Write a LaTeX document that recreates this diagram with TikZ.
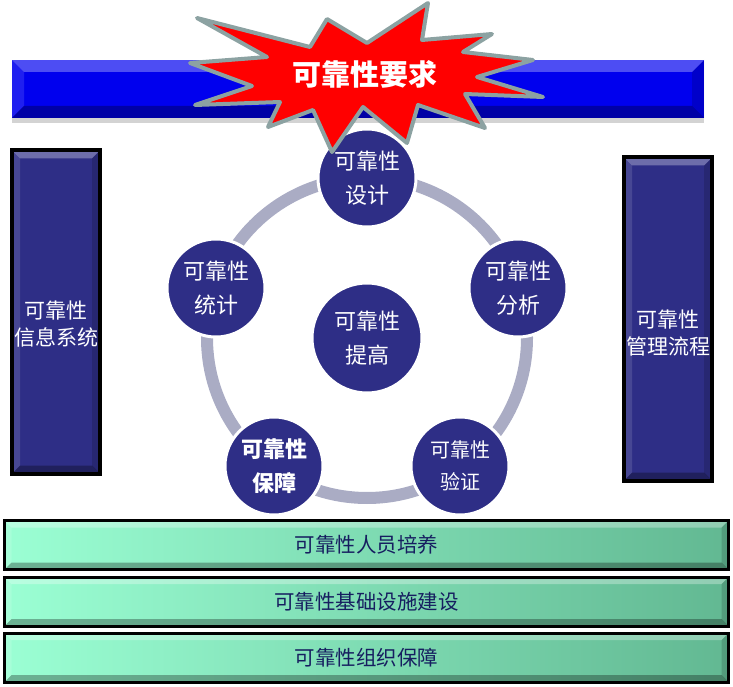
\documentclass[tikz,border=0pt]{standalone}
\usepackage{fontspec}
\setmainfont{Noto Sans CJK SC}
\usetikzlibrary{shadows}
\definecolor{barblue}{RGB}{0,0,238}
\definecolor{navy}{RGB}{46,46,134}
\definecolor{ringgray}{RGB}{170,172,196}
\definecolor{burstgray}{RGB}{140,162,162}
\definecolor{mintlight}{RGB}{155,255,212}
\definecolor{mintdark}{RGB}{98,184,146}
\definecolor{inkblue}{RGB}{22,30,96}

\begin{document}
\begin{tikzpicture}[x=1pt,y=1pt]
\tikzset{bevel/.style = {path picture={
  \coordinate (bnw) at (path picture bounding box.north west);
  \coordinate (bne) at (path picture bounding box.north east);
  \coordinate (bsw) at (path picture bounding box.south west);
  \coordinate (bse) at (path picture bounding box.south east);
  \fill[white,opacity=.3] (bnw) -- (bne) -- ([shift={(-#1,-#1)}]bne) -- ([shift={(#1,-#1)}]bnw) -- cycle;
  \fill[white,opacity=.12] (bnw) -- (bsw) -- ([shift={(#1,#1)}]bsw) -- ([shift={(#1,-#1)}]bnw) -- cycle;
  \fill[black,opacity=.3] (bsw) -- (bse) -- ([shift={(-#1,#1)}]bse) -- ([shift={(#1,#1)}]bsw) -- cycle;
  \fill[black,opacity=.15] (bne) -- (bse) -- ([shift={(-#1,#1)}]bse) -- ([shift={(-#1,-#1)}]bne) -- cycle;
}}}
\tikzset{ball/.style = {shape=circle,draw=white,line width=3pt,fill=navy,text=white,minimum size=98pt,inner sep=0pt,align=center,font=\fontsize{22}{34}\selectfont}}
\tikzset{pillar/.style = {draw=black,line width=4pt,fill=navy,minimum width=88pt,minimum height=323pt,bevel=8}}
\tikzset{pillartext/.style = {text=white,align=center,font=\fontsize{21}{27}\selectfont}}
\tikzset{plank/.style = {draw=black,line width=3pt,left color=mintlight,right color=mintdark,text=inkblue,minimum width=724pt,minimum height=49pt,font=\fontsize{20.5}{24}\selectfont,bevel=7}}
\tikzset{burst/.style = {draw=burstgray,fill=red,line width=4pt,line join=round}}
\tikzset{ring/.style = {draw=ringgray,line width=12pt}}
\useasboundingbox (0,0) rectangle (733,686);
% top banner
\node[fill=barblue,minimum width=692pt,minimum height=58pt,bevel=12,drop shadow={shadow xshift=0pt,shadow yshift=-5pt,opacity=.35}] (banner) at (358,597) {};
% side pillars
\node[pillar] (info) at (56,374) {};
\node[pillartext] (infotext) at ([yshift=-12pt]info.center) {可靠性\\信息系统};
\node[pillar] (flow) at (668,367) {};
\node[pillartext] (flowtext) at ([yshift=-14pt]flow.center) {可靠性\\管理流程};
% ring of circles
\node[ball,minimum size=110pt] (hub) at (367,348) {可靠性\\提高};
\draw[ring] (hub.center) circle[radius=160pt];
\node[ball] (design) at (367,508) {可靠性\\设计};
\node[ball] (analyse) at (518,398) {可靠性\\分析};
\node[ball,font=\fontsize{20}{32}\selectfont] (verify) at (460,220) {可靠性\\验证};
\node[ball,font=\fontsize{22}{34}\selectfont\bfseries] (assure) at (274,220) {可靠性\\保障};
\node[ball] (stats) at (216,398) {可靠性\\统计};
% burst
\draw[burst] (197,668) -- (310,639) -- (327,667) -- (367,643) -- (428,683) -- (422,646)
  -- (492,652) -- (463,634) -- (533,626) -- (477,609) -- (543,589) -- (465,592)
  -- (485,558) -- (418,581) -- (407,543) -- (363,579) -- (332,534) -- (313,576)
  -- (268,559) -- (280,584) -- (195,581) -- (252,600) -- (190,623) -- (267,629) -- cycle;
\node[text=white,font=\fontsize{29}{29}\selectfont\bfseries] (req) at (365,612) {可靠性要求};
% bottom planks
\node[plank] (staff) at (366.5,141) {可靠性人员培养};
\node[plank] (base) at (366.5,84.5) {可靠性基础设施建设};
\node[plank] (org) at (366.5,28.5) {可靠性组织保障};
\end{tikzpicture}
\end{document}
